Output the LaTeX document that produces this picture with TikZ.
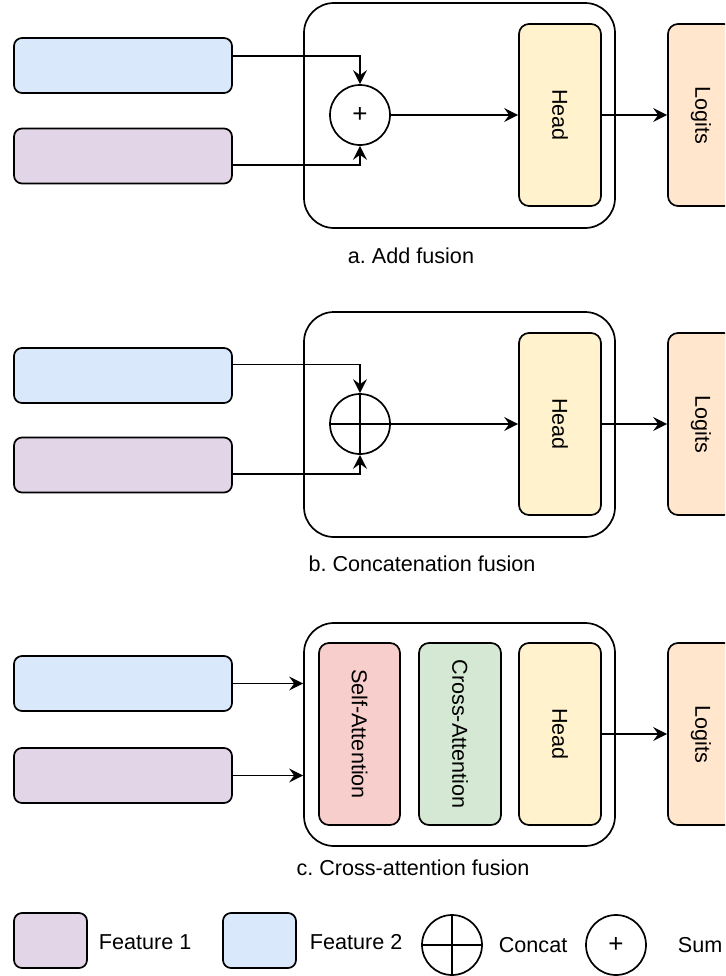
\documentclass[tikz,border=0pt]{standalone}
\usepackage{fontspec}
\setmainfont{Liberation Sans}
\usepackage{tikz}
\usetikzlibrary{arrows.meta}
\usetikzlibrary{positioning}

\definecolor{featone}{HTML}{E1D5E7}
\definecolor{feattwo}{HTML}{DAE8FC}
\definecolor{headcol}{HTML}{FFF2CC}
\definecolor{logitcol}{HTML}{FFE6CC}
\definecolor{selfcol}{HTML}{F8CECC}
\definecolor{crosscol}{HTML}{D5E8D4}

\begin{document}
\frenchspacing
\begin{tikzpicture}[x=0.5pt,y=-0.5pt,line width=0.85pt,
  every node/.style={font=\fontsize{10.8}{13}\selectfont,inner sep=0pt},
  feat/.style={draw,rounded corners=4pt,minimum width=109pt,minimum height=27.5pt},
  key/.style={draw,rounded corners=4pt,minimum width=36.5pt,minimum height=27.5pt},
  tall/.style={draw,rounded corners=5pt,minimum width=41pt,minimum height=91pt},
  fusebox/.style={draw,rounded corners=15pt,minimum width=155.5pt,minimum height=112.5pt},
  op/.style={draw,circle,minimum size=30pt},
  plus/.style={op,font=\fontsize{13}{13}\selectfont},
  cat/.style={op,path picture={\draw (path picture bounding box.north) -- (path picture bounding box.south)
      (path picture bounding box.west) -- (path picture bounding box.east);}},
  arr/.style={-{Stealth[length=7pt,width=7pt,inset=2.5pt]}}]
  \useasboundingbox (0,0) rectangle (725,976);
  \clip (0,0) rectangle (725,976);

  % a. add
  \node[fusebox] (fa) at (459.5,115.5) {};
  \node[feat,fill=feattwo] (f2a) at (123,65.5) {};
  \node[feat,fill=featone] (f1a) at (123,156) {};
  \node[plus] (suma) at (360,115) {+};
  \node[tall,fill=headcol] (heada) at (560,115) {\rotatebox{-90}{Head}};
  \node[tall,fill=logitcol,minimum width=33pt] (loga) at (701,115) {\rotatebox{-90}{Logits}};
  \node (capa) at (411,256) {a. Add fusion};

  \draw[arr] ([yshift=4.75pt]f2a.east) -| (suma.north);
  \draw[arr] ([yshift=-4.5pt]f1a.east) -| (suma.south);
  \draw[arr] (suma.east) -- (heada.west);
  \draw[arr] (heada.east) -- (loga.west);

  % b. concat
  \node[fusebox] (fb) at (459.5,424.5) {};
  \node[feat,fill=feattwo] (f2b) at (123,375.5) {};
  \node[feat,fill=featone] (f1b) at (123,465) {};
  \node[cat] (catb) at (360,424) {};
  \node[tall,fill=headcol] (headb) at (560,424) {\rotatebox{-90}{Head}};
  \node[tall,fill=logitcol,minimum width=33pt] (logb) at (701,424) {\rotatebox{-90}{Logits}};
  \node (capb) at (422,564) {b. Concatenation fusion};

  \draw[arr] ([yshift=5.5pt]f2b.east) -| (catb.north);
  \draw[arr] ([yshift=-4.5pt]f1b.east) -| (catb.south);
  \draw[arr] (catb.east) -- (headb.west);
  \draw[arr] (headb.east) -- (logb.west);

  % c. cross-attention
  \node[fusebox,minimum height=111.5pt] (fc) at (459.5,734.5) {};
  \node[feat,fill=feattwo] (f2c) at (123,683.5) {};
  \node[feat,fill=featone] (f1c) at (123,775.5) {};
  \node[tall,fill=selfcol,minimum width=40.5pt] (selfc) at (359.5,734) {\rotatebox{-90}{Self-Attention}};
  \node[tall,fill=crosscol] (crossc) at (460,734) {\rotatebox{-90}{Cross-Attention}};
  \node[tall,fill=headcol] (headc) at (560,734) {\rotatebox{-90}{Head}};
  \node[tall,fill=logitcol,minimum width=33pt] (logc) at (701,734) {\rotatebox{-90}{Logits}};
  \node (capc) at (413,868) {c. Cross-attention fusion};

  \draw[arr] (f2c.east) -- (f2c.east -| fc.west);
  \draw[arr] (f1c.east) -- (f1c.east -| fc.west);
  \draw[arr] (headc.east) -- (logc.west);

  % legend
  \node[key,fill=featone] (k1) at (50.5,940.5) {};
  \node[anchor=west] (t1) at (98,942) {Feature 1};
  \node[key,fill=feattwo] (k2) at (259.5,940.5) {};
  \node[anchor=west] (t2) at (309,942) {Feature 2};
  \node[cat] (k3) at (452,945) {};
  \node[anchor=west] (t3) at (498,945) {Concat};
  \node[plus] (k4) at (616,945) {+};
  \node[anchor=west] (t4) at (677,945) {Sum};
\end{tikzpicture}
\end{document}
